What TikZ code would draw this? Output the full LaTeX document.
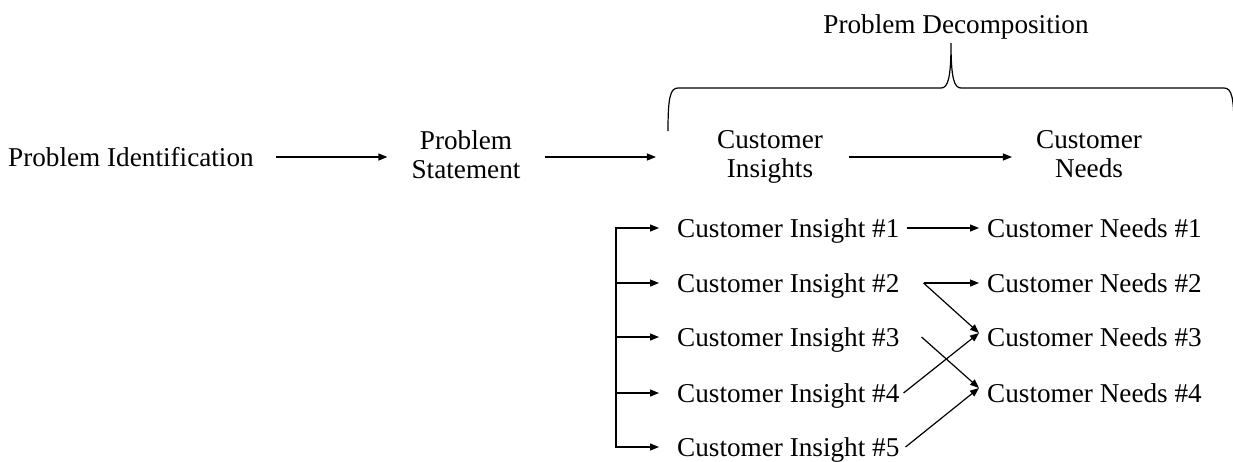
\documentclass[tikz,border=0pt]{standalone}
\usepackage{fontspec}
\setmainfont{Liberation Serif}
\usetikzlibrary{arrows.meta}

\tikzset{
  lbl/.style = {inner sep = 0, font = \fontsize{27.2}{29.5}\selectfont},
  row/.style = {lbl, anchor = west, text height = 18pt, text depth = 0pt},
  arr/.style = {line width = 1.2pt, -{Triangle[length = 9pt, width = 7pt]}},
}

\begin{document}
\begin{tikzpicture}[x = 1pt, y = -1pt]
%\draw [help lines] (0,0) grid (1233,461);
    \useasboundingbox (0,0) rectangle (1233,461);
    \node [row] (ident) at (8,157) {Problem Identification};
    \node [lbl, align = center, anchor = north] (stmt) at (466,130) {Problem\\Statement};
    \node [lbl, align = center, anchor = north] (insights) at (770,130) {Customer\\Insights};
    \node [lbl, align = center, anchor = north] (needs) at (1089,130) {Customer\\Needs};
    \node [lbl, anchor = base] (decomp) at (956,33) {Problem Decomposition};
    \draw [arr, shorten < = 22pt, shorten > = 24pt] (ident.east) -- (ident.east -| stmt.west);
    \draw [arr, shorten < = 24pt, shorten > = 61pt] (ident.east -| stmt.east) -- (ident.east -| insights.west);
    \draw [arr, shorten < = 26pt, shorten > = 24pt] (ident.east -| insights.east) -- (ident.east -| needs.west);
    % brace over the decomposition
    \draw [line width = 1.2pt] (668,131) .. controls (668,98) and (670,88) .. (678,88) -- (941,88)
        .. controls (948,88) and (951,78) .. (951,43) .. controls (951,78) and (954,88) .. (961,88)
        -- (1224,88) .. controls (1232,88) and (1234,98) .. (1234,131);
    \foreach \i/\y in {1/228, 2/283, 3/337, 4/393, 5/447}
        \node [row] (ins\i) at (677,\y) {Customer Insight \#\i};
    \foreach \i/\y in {1/228, 2/283, 3/337, 4/393}
        \node [row] (need\i) at (987,\y) {Customer Needs \#\i};
    \draw [line width = 1.2pt, line cap = rect] ([xshift = -61pt]ins1.west) -- ([xshift = -61pt]ins5.west);
    \foreach \i in {1,...,5}
        \draw [arr, shorten > = 18pt] ([xshift = -61pt]ins\i.west) -- (ins\i.west);
    \draw [arr, shorten < = 7pt, shorten > = 8pt] (ins1.east) -- (need1.west);
    \draw [arr, shorten > = 8pt] ([xshift = 24pt]ins2.east) -- (need2.west);
    \draw [arr] ([xshift = 24pt]ins2.east) -- ([xshift = -8pt, yshift = 4pt]need3.west);
    \draw [arr] ([xshift = 22pt]ins3.east) -- ([xshift = -8pt, yshift = 5pt]need4.west);
    \draw [arr] ([xshift = 4pt]ins4.east) -- ([xshift = -8pt, yshift = 4pt]need3.west);
    \draw [arr] ([xshift = 6pt]ins5.east) -- ([xshift = -8pt, yshift = 5pt]need4.west);
\end{tikzpicture}
\end{document}
